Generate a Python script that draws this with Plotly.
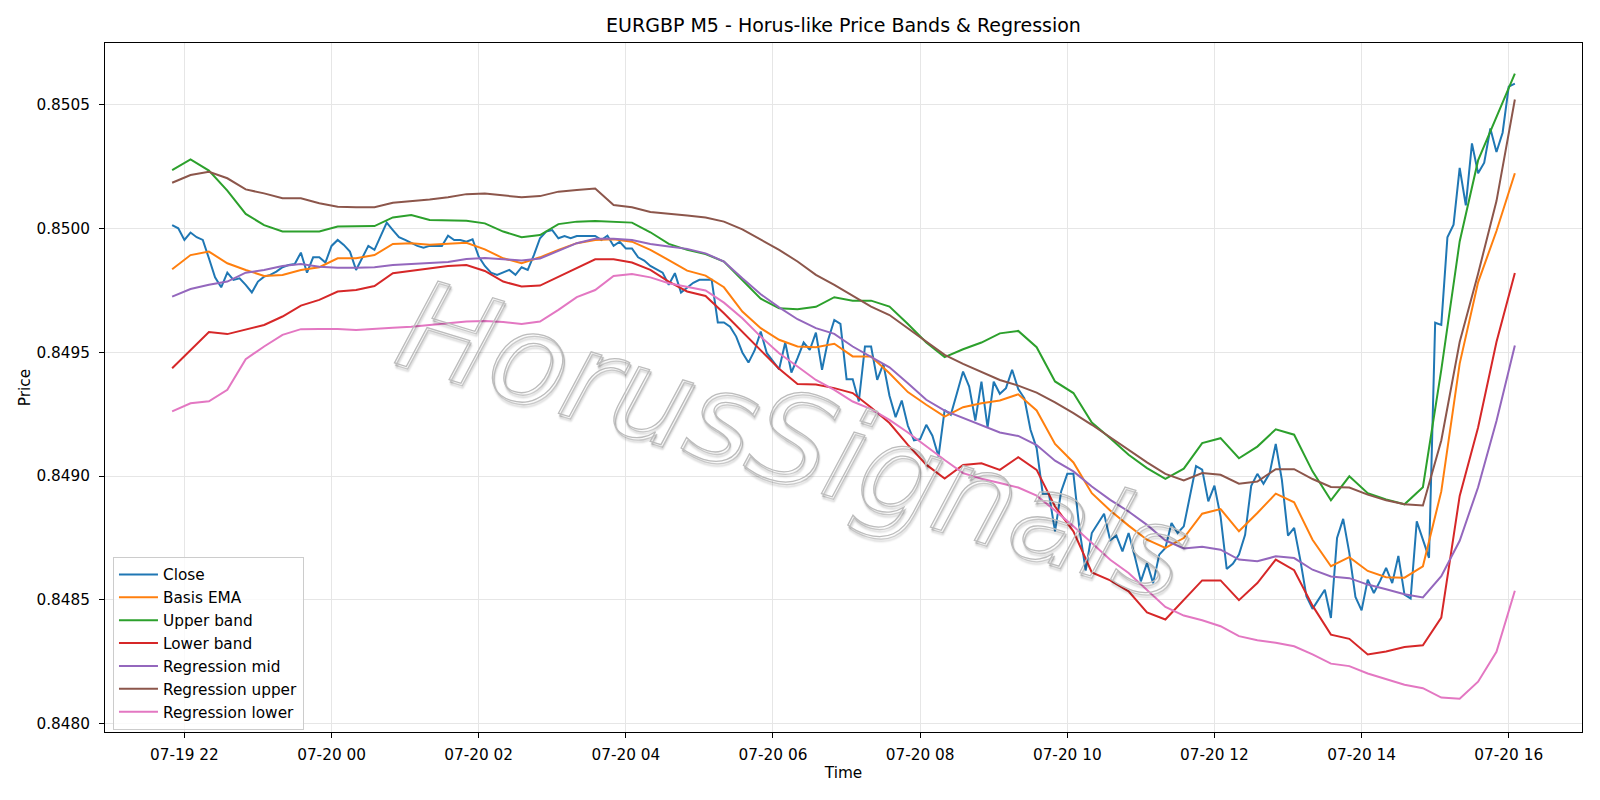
import pandas as pd
import plotly.graph_objects as go

# ---------------- data ----------------
start_time = "2025-07-19 21:50"
n_points = 220
times = pd.date_range(start_time, periods=n_points, freq="5min")
times_s = times[::3]  # smooth indicator samples every 15 min

close = [
    0.850013, 0.850000, 0.849953, 0.849983, 0.849964, 0.849953, 0.849879, 0.849802, 0.849762, 0.849821,
    0.849792, 0.849798, 0.849772, 0.849741, 0.849785, 0.849805, 0.849812, 0.849825, 0.849843, 0.849852,
    0.849856, 0.849902, 0.849821, 0.849883, 0.849883, 0.849862, 0.849929, 0.849953, 0.849933, 0.849906,
    0.849832, 0.849879, 0.849929, 0.849913, 0.849966, 0.850023, 0.849993, 0.849964, 0.849953, 0.849940,
    0.849929, 0.849922, 0.849929, 0.849929, 0.849929, 0.849970, 0.849953, 0.849953, 0.849946, 0.849956,
    0.849886, 0.849848, 0.849821, 0.849812, 0.849821, 0.849832, 0.849812, 0.849843, 0.849832, 0.849892,
    0.849960, 0.849987, 0.849993, 0.849960, 0.849969, 0.849960, 0.849969, 0.849970, 0.849970, 0.849969,
    0.849953, 0.849970, 0.849929, 0.849946, 0.849919, 0.849919, 0.849883, 0.849870, 0.849848, 0.849835,
    0.849821, 0.849772, 0.849819, 0.849741, 0.849762, 0.849780, 0.849792, 0.849792, 0.849792, 0.849620,
    0.849620, 0.849603, 0.849563, 0.849499, 0.849458, 0.849507, 0.849583, 0.849496, 0.849462, 0.849431,
    0.849539, 0.849418, 0.849476, 0.849539, 0.849509, 0.849579, 0.849429, 0.849550, 0.849630, 0.849614,
    0.849391, 0.849391, 0.849301, 0.849523, 0.849523, 0.849388, 0.849453, 0.849324, 0.849238, 0.849305,
    0.849203, 0.849144, 0.849149, 0.849207, 0.849163, 0.849079, 0.849267, 0.849247, 0.849334, 0.849422,
    0.849361, 0.849224, 0.849381, 0.849197, 0.849381, 0.849332, 0.849355, 0.849429, 0.849351, 0.849314,
    0.849187, 0.849113, 0.848929, 0.848929, 0.848777, 0.848938, 0.849009, 0.849009, 0.848783, 0.848619,
    0.848770, 0.848811, 0.848848, 0.848741, 0.848760, 0.848696, 0.848770, 0.848676, 0.848575, 0.848649,
    0.848568, 0.848683, 0.848710, 0.848811, 0.848770, 0.848797, 0.848925, 0.849040, 0.849026, 0.848898,
    0.848961, 0.848837, 0.848625, 0.848646, 0.848683, 0.848763, 0.848961, 0.849009, 0.848969, 0.849011,
    0.849130, 0.848985, 0.848760, 0.848791, 0.848663, 0.848515, 0.848464, 0.848501, 0.848541, 0.848427,
    0.848750, 0.848827, 0.848690, 0.848512, 0.848458, 0.848582, 0.848528, 0.848576, 0.848629, 0.848568,
    0.848678, 0.848521, 0.848506, 0.848817, 0.848739, 0.848670, 0.849619, 0.849610, 0.849964, 0.850015,
    0.850244, 0.850093, 0.850343, 0.850222, 0.850265, 0.850403, 0.850308, 0.850386, 0.850572, 0.850584,
]

basis_ema = [
    0.849835, 0.849892, 0.849906, 0.849859, 0.849832, 0.849808, 0.849812, 0.849832, 0.849843, 0.849879, 0.849879, 0.849892, 0.849937,
    0.849940, 0.849934, 0.849937, 0.849942, 0.849915, 0.849879, 0.849859, 0.849883, 0.849913, 0.849940, 0.849953, 0.849956, 0.849946, 0.849913,
    0.849872, 0.849829, 0.849809, 0.849762, 0.849664, 0.849597, 0.849550, 0.849523, 0.849520, 0.849534, 0.849483, 0.849483, 0.849415, 0.849339, 0.849288, 0.849240,
    0.849278, 0.849294, 0.849305, 0.849330, 0.849265, 0.849130, 0.849055, 0.848931, 0.848861, 0.848800, 0.848743, 0.848710, 0.848750,
    0.848848, 0.848867, 0.848777, 0.848851, 0.848929, 0.848894, 0.848743, 0.848636, 0.848673, 0.848617, 0.848592, 0.848590,
    0.848636, 0.848938, 0.849454, 0.849782, 0.849989, 0.850222,
]

upper_band = [
    0.850235, 0.850278, 0.850233, 0.850152, 0.850058, 0.850013, 0.849987, 0.849987, 0.849987, 0.850007, 0.850009, 0.850009, 0.850044,
    0.850054, 0.850034, 0.850034, 0.850031, 0.850020, 0.849987, 0.849964, 0.849973, 0.850017, 0.850027, 0.850030, 0.850028, 0.850023, 0.849984,
    0.849937, 0.849913, 0.849896, 0.849866, 0.849792, 0.849716, 0.849677, 0.849673, 0.849683, 0.849722, 0.849708, 0.849708, 0.849684, 0.849614, 0.849539, 0.849480,
    0.849512, 0.849539, 0.849576, 0.849586, 0.849520, 0.849382, 0.849335, 0.849216, 0.849153, 0.849086, 0.849032, 0.848989, 0.849030,
    0.849133, 0.849153, 0.849072, 0.849119, 0.849189, 0.849167, 0.849019, 0.848902, 0.848999, 0.848931, 0.848906, 0.848886,
    0.848955, 0.849429, 0.849947, 0.850274, 0.850446, 0.850624,
]

lower_band = [
    0.849435, 0.849507, 0.849581, 0.849573, 0.849590, 0.849610, 0.849644, 0.849688, 0.849711, 0.849745, 0.849751, 0.849767, 0.849819,
    0.849828, 0.849839, 0.849848, 0.849852, 0.849828, 0.849785, 0.849765, 0.849769, 0.849805, 0.849839, 0.849875, 0.849875, 0.849862, 0.849832,
    0.849785, 0.849745, 0.849727, 0.849657, 0.849581, 0.849507, 0.849433, 0.849372, 0.849370, 0.849355, 0.849335, 0.849277, 0.849214, 0.849126, 0.849046, 0.848990,
    0.849045, 0.849052, 0.849025, 0.849076, 0.849025, 0.848877, 0.848777, 0.848611, 0.848579, 0.848535, 0.848450, 0.848421, 0.848500,
    0.848579, 0.848579, 0.848499, 0.848568, 0.848663, 0.848620, 0.848477, 0.848360, 0.848343, 0.848280, 0.848292, 0.848310,
    0.848317, 0.848429, 0.848920, 0.849196, 0.849541, 0.849820,
]

regression_mid = [
    0.849724, 0.849755, 0.849772, 0.849785, 0.849821, 0.849832, 0.849848, 0.849856, 0.849845, 0.849841, 0.849841, 0.849843, 0.849852,
    0.849856, 0.849860, 0.849864, 0.849876, 0.849880, 0.849875, 0.849870, 0.849878, 0.849909, 0.849940, 0.849958, 0.849958, 0.849953, 0.849937,
    0.849927, 0.849917, 0.849899, 0.849866, 0.849798, 0.849734, 0.849681, 0.849633, 0.849597, 0.849574, 0.849523, 0.849480, 0.849439, 0.849375, 0.849308, 0.849264,
    0.849234, 0.849207, 0.849176, 0.849162, 0.849125, 0.849062, 0.849019, 0.848958, 0.848904, 0.848857, 0.848803, 0.848740, 0.848708,
    0.848715, 0.848703, 0.848663, 0.848656, 0.848676, 0.848669, 0.848622, 0.848595, 0.848588, 0.848562, 0.848543, 0.848523,
    0.848510, 0.848596, 0.848739, 0.848955, 0.849222, 0.849527,
]

regression_upper = [
    0.850184, 0.850215, 0.850228, 0.850202, 0.850157, 0.850141, 0.850121, 0.850121, 0.850101, 0.850087, 0.850085, 0.850085, 0.850103,
    0.850109, 0.850116, 0.850125, 0.850138, 0.850141, 0.850134, 0.850125, 0.850130, 0.850148, 0.850155, 0.850161, 0.850094, 0.850085, 0.850066,
    0.850060, 0.850052, 0.850044, 0.850027, 0.849996, 0.849956, 0.849913, 0.849866, 0.849812, 0.849772, 0.849727, 0.849684, 0.849650, 0.849597, 0.849543, 0.849489,
    0.849453, 0.849422, 0.849388, 0.849365, 0.849337, 0.849297, 0.849254, 0.849207, 0.849157, 0.849106, 0.849055, 0.849009, 0.848982,
    0.849012, 0.849005, 0.848969, 0.848978, 0.849028, 0.849028, 0.848988, 0.848956, 0.848954, 0.848925, 0.848902, 0.848886,
    0.848881, 0.849144, 0.849541, 0.849817, 0.850110, 0.850520,
]

regression_lower = [
    0.849261, 0.849294, 0.849302, 0.849348, 0.849472, 0.849523, 0.849570, 0.849593, 0.849594, 0.849594, 0.849590, 0.849593, 0.849599,
    0.849603, 0.849609, 0.849617, 0.849624, 0.849626, 0.849622, 0.849614, 0.849624, 0.849671, 0.849722, 0.849751, 0.849808, 0.849816, 0.849802,
    0.849778, 0.849762, 0.849749, 0.849700, 0.849637, 0.849563, 0.849496, 0.849442, 0.849388, 0.849348, 0.849301, 0.849270, 0.849227, 0.849176, 0.849120, 0.849065,
    0.849012, 0.848989, 0.848972, 0.848954, 0.848921, 0.848861, 0.848797, 0.848730, 0.848662, 0.848609, 0.848541, 0.848472, 0.848437,
    0.848418, 0.848394, 0.848354, 0.848337, 0.848327, 0.848313, 0.848280, 0.848243, 0.848233, 0.848203, 0.848182, 0.848158,
    0.848144, 0.848106, 0.848101, 0.848170, 0.848291, 0.848537,
]

series_names = ["Close", "Basis EMA", "Upper band", "Lower band",
                "Regression mid", "Regression upper", "Regression lower"]
series_colors = ["#1f77b4", "#ff7f0e", "#2ca02c", "#d62728",
                 "#9467bd", "#8c564b", "#e377c2"]

title_text = "EURGBP M5 - Horus-like Price Bands & Regression"
x_label = "Time"
y_label = "Price"
watermark_text = "HorusSignals"
y_ticks = [0.8480, 0.8485, 0.8490, 0.8495, 0.8500, 0.8505]

# ---------------- figure ----------------
FONT = "DejaVu Sans, Verdana, sans-serif"
BASE = 15.3
fig = go.Figure()

series = [
    (times, close), (times_s, basis_ema), (times_s, upper_band), (times_s, lower_band),
    (times_s, regression_mid), (times_s, regression_upper), (times_s, regression_lower),
]
for k, ((xs, ys), name, col) in enumerate(zip(series, series_names, series_colors)):
    fig.add_trace(go.Scatter(
        x=xs, y=ys, mode="lines", name=name, legendgroup=f"g{k}",
        line=dict(color=col, width=2),
    ))

# hollow, shadowed watermark
fig.add_annotation(
    text='<span style="fill:none;stroke:#bcbcbc;stroke-width:1.3px">' + watermark_text + "</span>",
    xref="paper", yref="paper", x=0.466, y=0.424,
    showarrow=False, textangle=17,
    font=dict(family=FONT, size=125, color="rgba(255,255,255,0)", style="italic",
              shadow="2px 2px 1px rgba(0,0,0,0.25), 3px 4px 2px rgba(0,0,0,0.2)"),
)

fig.update_layout(
    width=1600, height=800,
    margin=dict(l=105, r=18, t=43, b=68),
    paper_bgcolor="white", plot_bgcolor="white",
    font=dict(family=FONT, size=BASE, color="black"),
    title=dict(text=title_text, x=0.5, xref="paper", xanchor="center",
               y=1 - 25.5 / 800, yref="container", yanchor="middle",
               font=dict(family=FONT, size=19, color="black")),
    showlegend=True,
    legend=dict(x=0.0054, y=0.003, xanchor="left", yanchor="bottom",
                bgcolor="rgba(255,255,255,0.8)", bordercolor="#cccccc", borderwidth=1,
                font=dict(family=FONT, size=BASE, color="black"),
                tracegroupgap=1.3, traceorder="normal", itemwidth=39),
)

fig.update_xaxes(
    type="date",
    range=["2025-07-19 20:55:15", "2025-07-20 16:59:45"],
    tick0="2025-07-19 22:00", dtick=2 * 3600 * 1000, tickformat="%m-%d %H",
    showgrid=True, gridcolor="#e6e6e6", gridwidth=1,
    showline=True, linecolor="black", linewidth=1, mirror=True,
    ticks="outside", ticklen=5, tickcolor="black", tickwidth=1,
    ticklabelstandoff=4, zeroline=False,
    title=dict(text=x_label, standoff=3, font=dict(family=FONT, size=BASE)),
)
fig.update_yaxes(
    range=[0.847967, 0.850748],
    tickvals=y_ticks, tickformat=".4f",
    showgrid=True, gridcolor="#e6e6e6", gridwidth=1,
    showline=True, linecolor="black", linewidth=1, mirror=True,
    ticks="outside", ticklen=5, tickcolor="black", tickwidth=1,
    ticklabelstandoff=6, zeroline=False,
    title=dict(text=y_label, standoff=2, font=dict(family=FONT, size=BASE)),
)

fig.write_html("out.html")
